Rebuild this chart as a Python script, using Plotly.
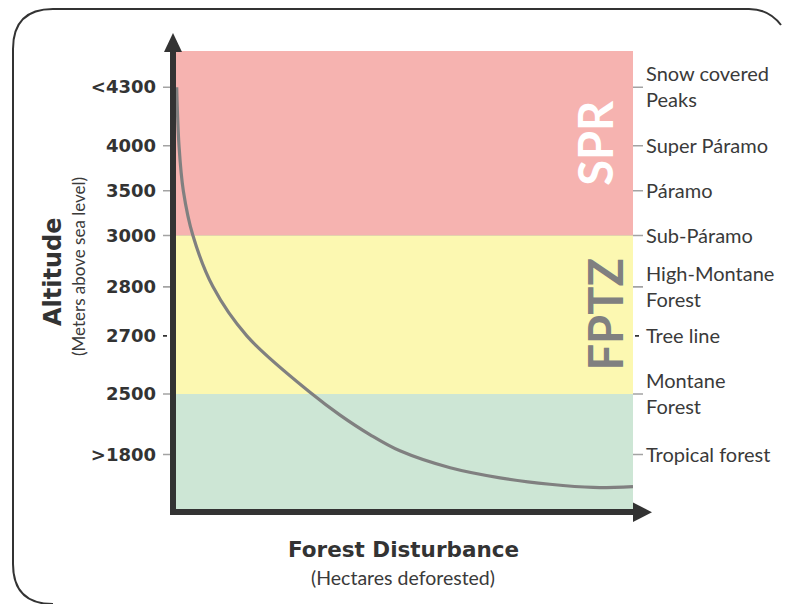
import plotly.graph_objects as go

# ---------------- data ----------------
altitude_labels = ["<4300", "4000", "3500", "3000", "2800", "2700", "2500", ">1800"]
# schematic (non-linear) position of each altitude level on the vertical axis (0-100)
altitude_pos = [92.1, 79.3, 69.5, 59.7, 48.5, 37.8, 25.1, 11.9]
zone_labels = ["Snow covered<br>Peaks", "Super Páramo", "Páramo", "Sub-Páramo",
               "High-Montane<br>Forest", "Tree line", "Montane<br>Forest", "Tropical forest"]
dotted_levels = ["2700"]

band_names = ["SPR", "FPTZ", ""]
band_bottom = [59.7, 25.1, 0.0]
band_top = [100.0, 59.7, 25.1]
band_colors = ["#f6b3b0", "#fcf8b1", "#cde6d5"]
band_text_colors = ["#ffffff", "#808080", "#808080"]
band_text_x = [91.8, 93.8, 93.8]

# forest disturbance curve (x: hectares deforested, schematic 0-100)
curve_x = [0.15, 0.66, 1.6, 3.7, 8.1, 15.5, 29.8, 35.9, 42.5, 49.0, 60.0, 70.9, 81.8, 91.3, 100]
curve_y = [92.1, 79.3, 69.5, 59.7, 48.5, 37.8, 25.1, 20.5, 16.2, 12.7, 9.0, 6.8, 5.4, 4.7, 4.9]

# ---------------- layout geometry (screen pixels) ----------------
W, H = 786, 604
L, R, T, B = 176, 633, 51, 509   # plot area
PW, PH = R - L, B - T


def px(x):
    return (x - L) / PW


def py(y):
    return (B - y) / PH


def P(x, y):
    return f"{px(x)} {py(y)}"


DARK = "#333333"
GRID = "#a3a3a3"
TXT = "#3a3a3a"

fig = go.Figure()

fig.add_trace(go.Scatter(
    x=curve_x, y=curve_y, mode="lines",
    line=dict(color="#808080", width=3.2, shape="spline", smoothing=1.0),
    showlegend=False, hoverinfo="skip", cliponaxis=False,
))
fig.add_trace(go.Scatter(x=[None], y=[None], yaxis="y2", showlegend=False, hoverinfo="skip"))

shapes = []
# colored bands
for b0, b1, c in zip(band_bottom, band_top, band_colors):
    shapes.append(dict(type="rect", xref="x", yref="y", x0=0, x1=100, y0=b0, y1=b1,
                       fillcolor=c, line=dict(width=0), layer="below"))
# level lines
for lab, pos in zip(altitude_labels, altitude_pos):
    dotted = lab in dotted_levels
    shapes.append(dict(type="line", xref="paper", yref="y", x0=px(163), x1=px(643), y0=pos, y1=pos,
                       line=dict(color=DARK if dotted else GRID, width=1.6,
                                 dash="4px,4px" if dotted else "solid"),
                       layer="below"))
# axes with arrows
shapes.append(dict(type="line", xref="paper", yref="paper", x0=px(173), x1=px(173), y0=py(515), y1=py(50),
                   line=dict(color=DARK, width=6), layer="above"))
shapes.append(dict(type="path", xref="paper", yref="paper",
                   path=f"M {P(164, 52)} L {P(182, 52)} L {P(173, 33)} Z",
                   fillcolor=DARK, line=dict(width=0), layer="above"))
shapes.append(dict(type="line", xref="paper", yref="paper", x0=px(170), x1=px(636), y0=py(512), y1=py(512),
                   line=dict(color=DARK, width=6), layer="above"))
shapes.append(dict(type="path", xref="paper", yref="paper",
                   path=f"M {P(633, 502.5)} L {P(633, 522)} L {P(652, 512.2)} Z",
                   fillcolor=DARK, line=dict(width=0), layer="above"))

# rounded frame (only the part that lies inside the picture)
frame = (f"M {P(53, 604)} Q {P(13, 604)} {P(13, 564)} L {P(13, 49)} "
         f"Q {P(13, 9)} {P(53, 9)} L {P(749, 9)} Q {P(769, 9)} {P(781, 25)}")
shapes.append(dict(type="path", xref="paper", yref="paper", path=frame,
                   line=dict(color=DARK, width=2), layer="below"))

annotations = []
for name, b0, b1, col, bx in zip(band_names, band_bottom, band_top, band_text_colors, band_text_x):
    if name:
        annotations.append(dict(x=bx, y=(b0 + b1) / 2, xref="x", yref="y", text=f"<b>{name}</b>",
                                showarrow=False, textangle=-90,
                                font=dict(family="Lato", size=47, color=col),
                                xanchor="center", yanchor="middle"))
annotations += [
    dict(x=px(53), y=py(272), xref="paper", yref="paper", text="<b>Altitude</b>", textangle=-90,
         showarrow=False, xanchor="center", yanchor="middle",
         font=dict(family="DejaVu Sans", size=24, color=DARK)),
    dict(x=px(78), y=py(267), xref="paper", yref="paper", text="(Meters above sea level)", textangle=-90,
         showarrow=False, xanchor="center", yanchor="middle",
         font=dict(family="Lato", size=17, color=TXT)),
    dict(x=px(403), y=py(549), xref="paper", yref="paper", text="<b>Forest Disturbance</b>",
         showarrow=False, xanchor="center", yanchor="middle",
         font=dict(family="DejaVu Sans", size=21.5, color=DARK)),
    dict(x=px(403), y=py(577), xref="paper", yref="paper", text="(Hectares deforested)",
         showarrow=False, xanchor="center", yanchor="middle",
         font=dict(family="Lato", size=19.5, color=TXT)),
]

fig.update_layout(
    width=W, height=H,
    margin=dict(l=L, r=W - R, t=T, b=H - B),
    paper_bgcolor="#ffffff", plot_bgcolor="rgba(0,0,0,0)",
    showlegend=False,
    xaxis=dict(range=[0, 100], showgrid=False, zeroline=False, showline=False,
               showticklabels=False, ticks="", fixedrange=True),
    yaxis=dict(range=[0, 100], showgrid=False, zeroline=False, showline=False,
               tickvals=altitude_pos, ticktext=altitude_labels, ticks="",
               ticklabelstandoff=19,
               tickfont=dict(family="DejaVu Sans", size=18, color=DARK, weight="bold")),
    yaxis2=dict(range=[0, 100], overlaying="y", side="right", showgrid=False, zeroline=False,
                showline=False, tickvals=altitude_pos, ticktext=zone_labels, ticks="",
                ticklabelstandoff=12,
                tickfont=dict(family="Lato", size=20, color=TXT)),
    shapes=shapes,
    annotations=annotations,
)

fig.write_html(
    "out.html",
    config={"displayModeBar": False},
    post_script="document.body.style.margin='0';document.body.style.overflow='hidden';",
)
